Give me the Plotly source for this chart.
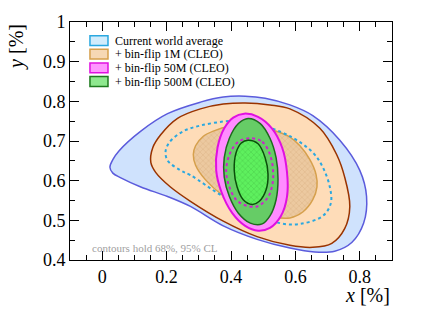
import plotly.graph_objects as go

# ---- data (contour outlines, in % units) ----
wa95_x = [0.024, 0.033, 0.052, 0.120, 0.203, 0.305, 0.376, 0.444, 0.506, 0.583, 0.654, 0.738, 0.800,
          0.821, 0.812, 0.775, 0.722, 0.660, 0.583, 0.481, 0.376, 0.274, 0.203, 0.120, 0.058, 0.033]
wa95_y = [0.634, 0.653, 0.675, 0.725, 0.769, 0.798, 0.811, 0.813, 0.808, 0.791, 0.764, 0.702, 0.626,
          0.560, 0.493, 0.444, 0.422, 0.420, 0.430, 0.452, 0.486, 0.535, 0.560, 0.584, 0.607, 0.619]

m1_95_x = [0.151, 0.157, 0.181, 0.234, 0.305, 0.376, 0.444, 0.521, 0.583, 0.676, 0.728, 0.753, 0.769,
           0.753, 0.713, 0.654, 0.583, 0.481, 0.376, 0.274, 0.212, 0.166]
m1_95_y = [0.646, 0.683, 0.715, 0.757, 0.781, 0.793, 0.796, 0.791, 0.781, 0.732, 0.666, 0.609, 0.535,
           0.479, 0.442, 0.432, 0.437, 0.459, 0.498, 0.548, 0.584, 0.621]

wa68_x = [0.197, 0.212, 0.253, 0.305, 0.376, 0.429, 0.481, 0.583, 0.654, 0.685, 0.707, 0.710, 0.685,
          0.614, 0.552, 0.481, 0.376, 0.274, 0.243, 0.203]
wa68_y = [0.675, 0.700, 0.725, 0.739, 0.749, 0.752, 0.744, 0.712, 0.671, 0.634, 0.584, 0.543, 0.511,
          0.491, 0.493, 0.518, 0.560, 0.614, 0.626, 0.651]

m1_68_x = [0.283, 0.290, 0.314, 0.345, 0.398, 0.460, 0.531, 0.583, 0.614, 0.645, 0.664, 0.667, 0.654,
           0.623, 0.583, 0.531, 0.460, 0.376, 0.321, 0.290]
m1_68_y = [0.666, 0.688, 0.712, 0.725, 0.737, 0.739, 0.727, 0.710, 0.688, 0.653, 0.616, 0.584, 0.552,
           0.521, 0.506, 0.508, 0.523, 0.562, 0.602, 0.639]

m50_95_x = [0.441, 0.484, 0.527, 0.559, 0.574, 0.574, 0.555, 0.521, 0.484, 0.444, 0.404, 0.370,
            0.354, 0.358, 0.379, 0.407]
m50_95_y = [0.769, 0.761, 0.732, 0.683, 0.621, 0.560, 0.511, 0.481, 0.474, 0.486, 0.518, 0.572,
            0.626, 0.683, 0.732, 0.759]

m500_95_x = [0.453, 0.491, 0.521, 0.540, 0.546, 0.540, 0.521, 0.497, 0.460, 0.423, 0.395, 0.379,
             0.379, 0.395, 0.423]
m500_95_y = [0.757, 0.744, 0.707, 0.658, 0.604, 0.552, 0.511, 0.491, 0.493, 0.518, 0.560, 0.609,
             0.658, 0.707, 0.744]

m50_68_x = [0.460, 0.497, 0.521, 0.531, 0.527, 0.512, 0.481, 0.444, 0.416, 0.395, 0.385, 0.398, 0.423]
m50_68_y = [0.707, 0.698, 0.666, 0.621, 0.584, 0.555, 0.535, 0.538, 0.552, 0.584, 0.626, 0.671, 0.698]

m500_68_x = [0.453, 0.484, 0.506, 0.515, 0.509, 0.488, 0.466, 0.438, 0.419, 0.410, 0.416, 0.432]
m500_68_y = [0.702, 0.693, 0.658, 0.616, 0.577, 0.548, 0.540, 0.552, 0.584, 0.626, 0.671, 0.695]

x_tickvals = [0, 0.2, 0.4, 0.6, 0.8]
x_ticktext = ["0", "0.2", "0.4", "0.6", "0.8"]
y_tickvals = [0.4, 0.5, 0.6, 0.7, 0.8, 0.9, 1.0]
y_ticktext = ["0.4", "0.5", "0.6", "0.7", "0.8", "0.9", "1"]

legend_labels = ["Current world average", "+ bin-flip 1M (CLEO)",
                 "+ bin-flip 50M (CLEO)", "+ bin-flip 500M (CLEO)"]


def closed(v):
    return list(v) + [v[0]]


fig = go.Figure()


def contour(xs, ys, line_color, line_width, fillcolor=None, dash="solid", pattern=None):
    kw = {}
    if pattern is not None:
        kw["fill"] = "toself"
        kw["fillpattern"] = pattern
        kw["fillcolor"] = pattern["bgcolor"]
    elif fillcolor is not None:
        kw["fill"] = "toself"
        kw["fillcolor"] = fillcolor
    fig.add_trace(go.Scatter(
        x=closed(xs), y=closed(ys), mode="lines",
        line=dict(color=line_color, width=line_width, dash=dash, shape="spline", smoothing=1.0),
        showlegend=False, hoverinfo="skip", **kw))


SERIF = "Liberation Serif, Times New Roman, Times, DejaVu Serif, serif"

contour(wa95_x, wa95_y, "#5b5bdc", 1.5, fillcolor="#cfe2fd")
contour(m1_95_x, m1_95_y, "#993300", 1.5, fillcolor="#fedcb8")
contour(m1_68_x, m1_68_y, "#d6a04c", 1.5,
        pattern=dict(shape="x", bgcolor="#ecc9a0", fgcolor="#c89a66", size=4, solidity=0.2))
contour(wa68_x, wa68_y, "#2aa8e0", 2, dash="3px,3px")
contour(m50_95_x, m50_95_y, "#e010e0", 2, fillcolor="#ff8cff")
contour(m500_95_x, m500_95_y, "#1d6b1d", 1.5, fillcolor="#66cc66")
contour(m50_68_x, m50_68_y, "#cc22cc", 2, dash="3px,3px")
contour(m500_68_x, m500_68_y, "#0a4f0a", 1.5,
        pattern=dict(shape="x", bgcolor="#5ef05e", fgcolor="#2f9f2f", size=4, solidity=0.2))

# ---- legend (drawn manually to reproduce the compact ROOT legend) ----
leg_fill = ["#d2ecfb", "#f6d8b4", "#ff96ff", "#8ee88e"]
leg_line = ["#2aa8e0", "#d6a04c", "#e010e0", "#1d7a1d"]
row_centers = [0.922, 0.865, 0.807, 0.750]
shapes = []
annotations = []
for lab, fc, lc, yc in zip(legend_labels, leg_fill, leg_line, row_centers):
    shapes.append(dict(type="rect", xref="paper", yref="paper",
                       x0=0.062, x1=0.118, y0=yc - 0.0205, y1=yc + 0.0205,
                       fillcolor=fc, line=dict(color=lc, width=1.5)))
    annotations.append(dict(text=lab, xref="paper", yref="paper", x=0.133, y=yc,
                            xanchor="left", yanchor="middle", showarrow=False,
                            font=dict(family=SERIF, size=12, color="black")))

annotations.append(dict(text="contours hold 68%, 95% CL", xref="paper", yref="paper",
                        x=0.062, y=0.049, xanchor="left", yanchor="middle", showarrow=False,
                        font=dict(family=SERIF, size=11, color="#a0a0a0")))
annotations.append(dict(text="<i>x</i> [%]", xref="paper", yref="paper", x=1.0, y=-0.146,
                        xanchor="right", yanchor="middle", showarrow=False,
                        font=dict(family=SERIF, size=20, color="black")))
annotations.append(dict(text="<i>y</i> [%]", xref="paper", yref="paper", x=-0.168, y=1.0,
                        xanchor="center", yanchor="top", textangle=-90, showarrow=False,
                        font=dict(family=SERIF, size=20, color="black")))

axis_common = dict(showline=True, linecolor="black", linewidth=1, mirror="allticks",
                   ticks="inside", ticklen=9, tickcolor="black", tickwidth=1,
                   showgrid=False, zeroline=False, ticklabeloverflow="allow",
                   tickfont=dict(family=SERIF, size=18, color="black"))

fig.update_layout(
    width=436, height=315,
    margin=dict(l=70, r=44, t=16, b=55),
    paper_bgcolor="white", plot_bgcolor="white",
    showlegend=False,
    font=dict(family=SERIF),
    shapes=shapes, annotations=annotations,
    xaxis=dict(range=[-0.1, 0.9], tickmode="array", tickvals=x_tickvals, ticktext=x_ticktext,
               minor=dict(tickmode="linear", tick0=0, dtick=0.05, ticks="inside", ticklen=5,
                          tickcolor="black", showgrid=False),
               **axis_common),
    yaxis=dict(range=[0.4, 1.0], tickmode="array", tickvals=y_tickvals, ticktext=y_ticktext,
               minor=dict(tickmode="linear", tick0=0, dtick=0.05, ticks="inside", ticklen=5,
                          tickcolor="black", showgrid=False),
               **axis_common),
)

# remove the browser's default 8px page margin so the figure sits at the window's corner
fig.write_html("out.html", config={"displayModeBar": False},
               post_script="document.body.style.margin='0';")
